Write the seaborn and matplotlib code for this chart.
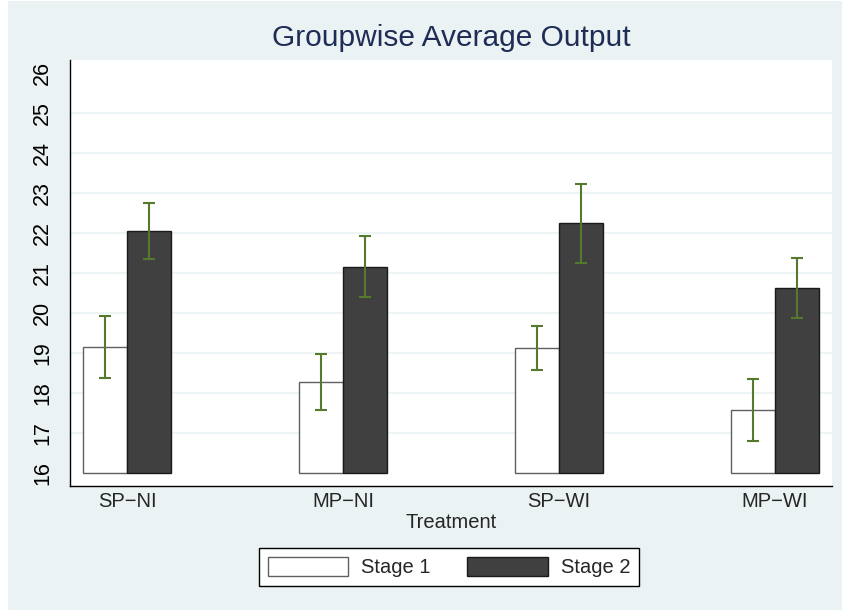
import pandas as pd
import numpy as np
import matplotlib.pyplot as plt
import matplotlib.patches as mpatches
import seaborn as sns

# valores (media e intervalo por tratamento)
tratamentos = ['SP\u2212NI', 'MP\u2212NI', 'SP\u2212WI', 'MP\u2212WI']
estagios = ['Stage 1', 'Stage 2']

media_s1 = [19.16, 18.27, 19.12, 17.58]
inf_s1 = [18.37, 17.57, 18.58, 16.81]
sup_s1 = [19.93, 18.97, 19.68, 18.34]

media_s2 = [22.05, 21.16, 22.26, 20.63]
inf_s2 = [21.34, 20.39, 21.26, 19.87]
sup_s2 = [22.76, 21.93, 23.23, 21.38]

y_ticks = list(range(16, 27))
base = 16

df = pd.DataFrame({
    'Treatment': tratamentos * 2,
    'estagio': [estagios[0]] * 4 + [estagios[1]] * 4,
    'media': media_s1 + media_s2,
    'inf': inf_s1 + inf_s2,
    'sup': sup_s1 + sup_s2,
})

fundo = '#EAF2F3'
sns.set_style('white')
plt.rcParams['font.family'] = ['Liberation Sans', 'DejaVu Sans']

fig = plt.figure(figsize=(8.42, 6.11), dpi=100, facecolor='white')
# moldura azulada estilo stata
fig.patches.append(mpatches.Rectangle((8 / 842, 1 / 611), 1, 1 - 2 / 611, transform=fig.transFigure,
                                      facecolor=fundo, edgecolor='none', zorder=-10))
ax = fig.add_axes([70 / 842, 1 - 486 / 611, 762 / 842, 426 / 611])

sns.barplot(data=df, x='Treatment', y='media', hue='estagio', order=tratamentos,
            hue_order=estagios, palette={'Stage 1': 'white', 'Stage 2': '#404040'},
            saturation=1, width=0.4074, errorbar=None, ax=ax, legend=False)

cores_borda = ['#606060', '#1a1a1a']
for cont, cb in zip(ax.containers, cores_borda):
    for p in cont.patches:
        h = p.get_height()
        p.set_y(base)
        p.set_height(h - base)
        p.set_edgecolor(cb)
        p.set_linewidth(1.0)

# barras de erro no centro de cada barra
for cont, (m, lo, hi) in zip(ax.containers, [(media_s1, inf_s1, sup_s1), (media_s2, inf_s2, sup_s2)]):
    xs = [p.get_x() + p.get_width() / 2 for p in cont.patches]
    m = np.array(m)
    ax.errorbar(xs, m, yerr=[m - np.array(lo), np.array(hi) - m], fmt='none',
                ecolor='#557a2e', elinewidth=1.5, capsize=4.5, capthick=1.5, zorder=5)

ax.set_xlim(-0.264, 3.264)
ax.set_ylim(15.675, 26.325)
ax.set_yticks(y_ticks)
ax.set_yticklabels([str(v) for v in y_ticks], rotation=90, va='center', fontsize=15.5)
ax.tick_params(axis='y', length=7, width=1, pad=5, colors='black')
ax.tick_params(axis='x', length=0, pad=4, labelsize=14.5)
ax.set_facecolor('white')

ax.yaxis.grid(True, color=fundo, linewidth=1.2)
ax.set_axisbelow(True)
grades = ax.get_ygridlines()
grades[0].set_visible(False)
grades[-1].set_visible(False)

sns.despine(ax=ax)
for s in ['left', 'bottom']:
    ax.spines[s].set_color('black')
    ax.spines[s].set_linewidth(1.0)

ax.set_ylabel('')
ax.set_xlabel('Treatment', fontsize=14.5, labelpad=2)
fig.text(451 / 842, 1 - 38 / 611, 'Groupwise Average Output', ha='center', va='center',
         fontsize=21.5, color='#1f2c55')

leg = fig.legend(ax.containers, estagios, loc='center', bbox_to_anchor=(449 / 842, 1 - 567 / 611),
                 ncol=2, frameon=True, fancybox=False, fontsize=14.5, handlelength=4.0,
                 handleheight=1.05, handletextpad=0.65, columnspacing=1.8, borderpad=0.45)
leg.get_frame().set_edgecolor('black')
leg.get_frame().set_linewidth(1.0)
leg.get_frame().set_facecolor('white')
leg.get_frame().set_alpha(1)

plt.savefig('out.png', dpi=100, facecolor=fig.get_facecolor())
